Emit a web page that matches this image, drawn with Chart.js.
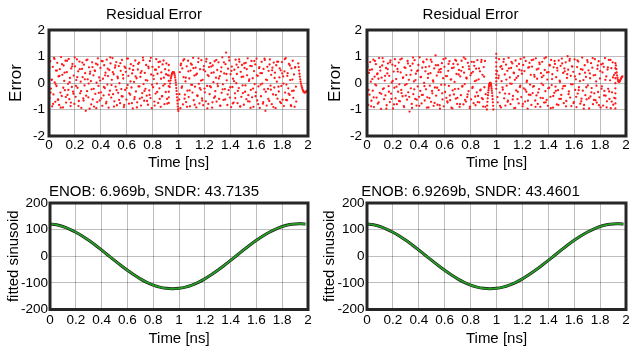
<!DOCTYPE html>
<html>
<head>
<meta charset="utf-8">
<script src="https://cdn.jsdelivr.net/npm/chart.js@4.4.1/dist/chart.umd.min.js"></script>
<style>
  html, body { margin: 0; padding: 0; background: #fff; }
  #wrap { position: relative; width: 629px; height: 351px; overflow: hidden; }
  canvas { position: absolute; }
</style>
</head>
<body>
<div id="wrap">
  <canvas id="resL" width="315" height="175" style="left:0;top:0"></canvas>
  <canvas id="resR" width="314" height="175" style="left:315px;top:0"></canvas>
  <canvas id="fitL" width="315" height="176" style="left:0;top:175px"></canvas>
  <canvas id="fitR" width="314" height="176" style="left:315px;top:175px"></canvas>
</div>
<script>
// sampling grid of the residual points (ns)
const sampleStep = 0.0049;
const segStartA = 0;
const segStartB = 1.005;

const xTicks = [0, 0.2, 0.4, 0.6, 0.8, 1, 1.2, 1.4, 1.6, 1.8, 2];

// residual error, left run (0 .. 0.92 ns)
const residLeftA = [
  0.34,-0.57,0.82,-0.21,0.13,-0.88,0.61,-0.43,0.95,0.02,-0.71,0.47,-0.12,0.76,-0.64,0.25,-0.83,0.52,-0.36,0.98,
  -0.49,0.31,-0.92,0.66,0.08,-0.27,0.84,-0.74,0.41,-0.45,-0.03,0.91,-0.61,0.19,-0.87,0.55,-0.15,0.72,-0.33,0.28,
  -0.79,0.63,-0.52,0.11,0.89,-0.18,0.44,-0.68,0.81,-0.39,0.05,-0.94,0.53,0.22,-0.58,0.69,-0.09,0.37,-1.05,0.86,
  -0.31,0.14,-0.54,0.59,-0.97,0.43,0.07,-0.24,0.78,-0.62,0.29,-0.89,0.48,-0.41,0.73,0.01,-0.72,0.93,-0.11,0.21,
  -0.66,0.57,-0.35,0.83,-0.86,0.16,-0.47,0.67,-0.19,0.39,-0.77,0.88,-0.06,0.26,-0.93,0.49,-0.29,0.74,-0.55,0.12,
  0.94,-0.42,0.33,-0.69,0.58,-0.14,0.79,-0.84,0.24,-0.37,0.64,-0.01,-0.76,0.46,-0.23,0.87,-0.51,0.17,-0.91,0.62,
  -0.26,0.42,-0.63,0.92,-0.08,0.27,-0.78,0.54,-0.44,0.71,-0.17,0.36,-0.96,0.65,0.04,-0.53,0.85,-0.32,0.18,-0.73,
  0.51,-0.13,0.77,-0.59,0.23,-0.85,0.45,-0.38,0.96,-0.04,-0.67,0.38,-0.22,0.68,-0.48,0.09,-0.82,0.56,-0.28,0.83,
  -0.57,0.32,-0.95,0.61,-0.16,0.15,-0.7,0.5,-0.4,0.9,-0.02,0.35,-0.75,0.6,-0.2,0.81,-0.9,0.4,-0.5,0.7,
  -0.1,0.2,-0.8,0.52,-0.34,0.74,-0.6,0.3
];
// in-between samples of the same run (half a step later, every other slot)
const residLeftA2 = [
  0.58,-0.36,0.12,-0.79,0.91,-0.05,0.47,-0.62,0.27,-0.93,0.71,-0.18,0.39,-0.53,0.84,-0.26,0.03,-0.74,0.63,-0.41,
  0.96,-0.11,0.22,-0.87,0.52,-0.31,0.77,-0.66,0.14,-0.48,0.88,-0.02,0.35,-0.81,0.6,-0.22,0.45,-0.95,0.69,-0.37,
  0.09,-0.58,0.82,-0.15,0.29,-0.71,0.54,-0.44,0.97,-0.08,0.41,-0.89,0.66,-0.27,0.18,-0.64,0.75,-0.5,0.31,-0.83,
  0.57,-0.19,0.92,-0.39,0.06,-0.76,0.49,-0.61,0.25,-0.92,0.72,-0.13,0.38,-0.55,0.86,-0.3,0.11,-0.68,0.62,-0.45,
  0.95,-0.07,0.28,-0.85,0.5,-0.34,0.79,-0.6,0.16,-0.5,0.85,-0.04,0.33,-0.78
];
// residual error, left run (1.005 .. 1.91 ns)
const residLeftB = [
  -0.62,0.41,-0.95,0.73,-0.18,0.55,-0.81,0.22,0.9,-0.44,0.06,-0.72,0.63,-0.29,0.84,-0.53,0.17,-0.88,0.47,-0.07,
  0.69,-0.36,0.95,-0.65,0.28,-0.14,0.58,-0.92,0.35,-0.49,0.79,-0.03,-0.77,0.52,-0.25,0.86,-0.58,0.12,-0.84,0.64,
  -0.21,0.44,-0.69,0.91,-0.11,0.3,-0.79,0.6,-0.42,0.75,-0.16,0.38,-0.93,0.66,0.03,-0.56,0.82,-0.31,0.2,-0.7,
  0.49,-0.12,0.78,-0.6,0.26,-0.86,0.43,-0.37,0.97,-0.05,-0.64,0.36,-0.23,0.71,1.15,0.1,-0.83,0.54,-0.27,0.85,
  -0.55,0.33,-0.91,0.62,-0.15,0.16,-0.74,0.5,-0.39,0.88,-0.01,0.34,-0.76,0.59,-0.19,0.8,-0.89,0.42,-0.52,0.68,
  -0.09,0.24,-0.82,0.57,-0.33,0.76,-0.61,0.29,0.93,-0.46,0.08,-0.7,0.65,-0.26,0.83,-0.54,0.18,-0.9,0.45,-0.04,
  0.7,-0.35,0.92,-0.66,0.27,-0.13,0.56,-0.94,0.37,-0.5,0.8,-0.02,-0.78,0.53,-0.24,0.87,-1.05,0.13,-0.85,0.61,
  -0.22,0.46,-0.68,0.89,-0.1,0.31,-0.8,0.58,-0.43,0.77,-0.17,0.39,-0.95,0.67,0.05,-0.59,0.81,-0.32,0.21,-0.71,
  0.48,-0.11,0.79,-0.63,0.25,-0.87,0.44,-0.36,0.94,-0.06,-0.65,0.37,-0.2,0.72,-0.45,0.11,-0.84,0.55,-0.3,0.84,
  -0.56,0.32,-0.9,0.6,-0.14
];
const residLeftB2 = [
  -0.42,0.67,-0.13,0.85,-0.59,0.2,-0.9,0.44,-0.28,0.73,-0.07,0.56,-0.82,0.31,-0.47,0.93,-0.19,0.09,-0.66,0.5,
  -0.35,0.81,-0.96,0.26,-0.12,0.62,-0.73,0.4,-0.51,0.87,-0.03,0.17,-0.85,0.59,-0.24,0.78,-0.62,0.34,-0.43,0.97,
  -0.16,0.46,-0.77,0.07,-0.57,0.69,-0.3,0.89,-0.88,0.23,-0.38,0.74,-0.09,0.52,-0.69,0.14,-0.94,0.64,-0.21,0.83,
  -0.5,0.29,-0.8,0.6,-0.06,0.37,-0.72,0.92,-0.33,0.11,-0.6,0.7,-0.25,0.48,-0.91,0.19,-0.45,0.8,-0.14,0.55,
  -0.76,0.36,-0.02,0.9,-0.64,0.27,-0.4,0.66,-0.87,0.13,-0.29,0.58,-0.7
];
// left: column, arc near 0.96 ns and hook at the end
const curveLeftTimes = [
  0.925,0.925,0.925,0.925,0.925,0.925,0.925,0.925,
  0.932,0.935,0.938,0.941,0.944,0.947,0.95,0.953,0.956,0.959,0.962,0.965,0.968,0.971,0.974,0.977,
  0.979,0.981,0.983,0.985,0.987,0.989,0.991,0.993,0.995,0.997,0.999,
  1.925,1.928,1.931,1.934,1.937,1.94,1.943,1.946,1.95,1.954,1.958,1.962,1.966,1.97,1.975,1.98,1.985,1.99
];
const curveLeftErrors = [
  0.68,0.48,0.28,0.08,-0.12,-0.33,-0.54,-0.75,
  -0.15,-0.02,0.09,0.18,0.25,0.31,0.35,0.38,0.4,0.41,0.41,0.39,0.35,0.29,0.21,0.11,
  0.02,-0.08,-0.19,-0.3,-0.42,-0.54,-0.66,-0.78,-0.89,-0.99,-1.06,
  0.74,0.6,0.47,0.35,0.24,0.14,0.05,-0.03,-0.11,-0.18,-0.24,-0.29,-0.33,-0.35,-0.36,-0.35,-0.33,-0.3
];

// residual error, right run (0 .. 0.92 ns)
const residRightA = [
  -0.15,0.62,-0.83,0.38,-0.44,0.79,0.05,-0.67,0.51,-0.29,0.88,-0.91,0.24,-0.06,0.71,-0.55,0.33,-0.78,0.16,0.94,
  -0.37,0.47,-0.98,0.2,0.66,-0.23,0.81,-0.61,0.09,-0.47,0.57,-0.84,0.36,0.74,-0.12,0.27,-0.72,0.85,-0.4,0.02,
  0.69,-0.96,0.43,-0.18,0.9,-0.58,0.15,-0.8,0.53,-0.33,0.77,-0.05,-0.69,0.4,-0.26,0.92,-0.5,0.21,-0.87,0.59,
  -0.08,-0.48,0.3,-0.63,0.83,-0.35,0.12,-1.08,0.64,-0.2,0.48,-0.94,0.73,-0.42,0.06,0.86,-0.6,0.35,-0.85,0.45,
  -0.13,0.68,-0.52,0.97,-0.3,0.23,-0.77,0.58,-0.45,0.78,0.0,-0.66,0.44,-0.24,0.89,-0.54,0.19,-0.92,0.63,-0.1,
  0.37,-0.71,0.8,-0.39,0.1,-0.86,0.55,-0.17,1.04,-0.48,0.28,-0.82,0.67,-0.27,0.5,-0.97,0.41,-0.07,0.75,-0.62,
  0.18,-0.88,0.61,-0.34,0.93,-0.56,0.26,-0.74,0.46,-0.11,0.82,-0.65,0.13,-0.93,0.56,-0.28,0.72,-0.43,0.04,0.87,
  -0.59,0.34,-0.79,0.7,-0.22,0.49,-0.9,0.25,-0.46,0.84,-0.14,0.6,-0.81,0.39,-0.04,0.91,-0.7,0.17,-0.53,0.76,
  -0.31,0.52,-0.95,0.29,-0.62,0.8,-0.19,0.42,-0.76,0.65,0.07,-0.84,0.54,-0.35,0.86,-0.49,0.14,-0.73,0.44,-0.25,
  0.79,-0.57,0.31,-0.89,0.6,-0.16,0.83,-0.42
];
const residRightA2 = [
  0.71,-0.26,0.49,-0.88,0.15,-0.54,0.83,-0.09,0.36,-0.73,0.6,-0.41,0.94,-0.2,0.27,-0.97,0.52,-0.33,0.78,-0.6,
  0.08,-0.81,0.65,-0.14,0.43,-0.68,0.89,-0.38,0.19,-0.91,0.57,-0.04,0.74,-0.52,0.31,-0.79,0.96,-0.24,0.11,-0.63,
  0.48,-0.86,0.22,-0.45,0.81,-0.12,0.6,-0.93,0.34,-0.57,0.88,-0.3,0.05,-0.75,0.67,-0.18,0.41,-0.84,0.53,-0.39,
  0.9,-0.07,0.26,-0.69,0.72,-0.47,0.14,-0.96,0.58,-0.23,0.84,-0.56,0.32,-0.8,0.46,-0.11,0.97,-0.64,0.2,-0.43,
  0.63,-0.89,0.37,-0.15,0.79,-0.51,0.1,-0.72,0.55,-0.28,0.87,-0.61,0.24,-0.9
];
// residual error, right run (1.005 .. 1.91 ns)
const residRightB = [
  0.44,-0.73,0.18,0.9,-0.36,0.61,-0.92,0.07,0.53,-0.25,0.8,-0.58,0.32,-0.85,0.69,-0.1,0.46,-0.67,0.95,-0.41,
  0.21,-0.8,0.57,-0.03,0.74,-0.49,0.39,-0.95,0.12,0.85,-0.28,0.64,-0.61,0.26,-0.77,0.5,-0.15,0.91,-0.53,0.35,
  -0.88,0.68,-0.2,0.45,-0.7,0.83,-0.33,0.09,-0.97,0.58,-0.44,0.76,-0.06,0.31,-0.83,0.62,-0.38,0.88,-0.12,0.24,
  -0.66,0.93,-0.47,0.16,-0.79,0.54,-0.23,0.71,-0.9,0.37,-0.02,0.8,-0.57,0.28,-0.74,0.49,-0.31,0.97,-0.64,0.13,
  -0.86,0.41,-0.18,0.66,-0.52,0.87,-0.08,0.33,-0.93,0.59,-0.37,0.72,-0.14,0.22,-0.81,0.47,-0.27,0.85,-0.6,0.04,
  0.65,-0.45,0.92,-0.21,0.38,-0.76,0.55,-0.11,0.78,-0.68,0.19,1.01,0.5,-0.32,0.84,-0.55,0.27,-0.87,0.63,-0.05,
  0.42,-0.72,0.89,-0.26,0.14,-0.91,0.6,-0.4,0.81,-0.16,0.34,-0.78,0.52,-0.59,0.96,-0.29,0.11,-0.83,0.67,-0.46,
  0.23,-0.62,0.86,-0.09,0.48,-0.96,0.36,-0.51,0.75,-0.19,0.58,-0.8,0.29,-0.39,0.9,-0.65,0.06,-0.74,0.53,-0.34,
  0.82,-0.54,0.17,-0.92,0.7,-0.13,0.4,-0.85,0.61,-0.3,0.94,-0.48,0.25,-0.69,0.51,-0.22,0.87,-0.6,0.1,-0.95,
  0.56,-0.35,0.78,-0.82,0.3
];
const residRightB2 = [
  -0.53,0.28,-0.86,0.64,-0.17,0.9,-0.4,0.13,-0.71,0.55,-0.02,0.8,-0.62,0.37,-0.94,0.19,-0.33,0.72,-0.1,0.47,
  -0.79,0.96,-0.25,0.04,-0.67,0.6,-0.45,0.86,-0.14,0.31,-0.9,0.51,-0.36,0.77,-0.56,0.22,-0.08,0.93,-0.73,0.4,
  -0.2,0.68,-0.95,0.15,-0.49,0.83,-0.3,0.57,-0.83,0.09,-0.6,0.74,-0.12,0.44,-0.88,0.33,-0.42,0.91,-0.05,0.62,
  -0.76,0.25,-0.52,0.85,-0.27,0.07,-0.69,0.5,-0.97,0.39,-0.16,0.79,-0.58,0.18,-0.35,0.94,-0.64,0.3,-0.1,0.66,
  -0.84,0.45,-0.22,0.73,-0.47,0.12,-0.92,0.59,-0.32,0.87,-0.7,0.21,-0.56
];
// right: arc near 0.95 ns, columns at 1.0 and 1.92 ns, hook at the end
const curveRightTimes = [
  0.926,0.928,0.93,0.932,0.934,0.936,0.938,0.94,0.942,0.944,0.946,0.948,0.95,
  0.952,0.954,0.956,0.958,0.96,0.962,0.964,0.966,0.968,0.97,0.972,0.974,0.976,
  0.998,0.998,0.998,0.998,0.998,0.998,0.998,0.998,0.998,0.998,
  1.918,1.918,1.918,1.918,1.918,1.918,1.918,1.918,1.918,1.918,
  1.922,1.925,1.928,1.931,1.934,1.937,1.94,1.943,1.946,1.949,1.953,1.957,1.961,1.965,1.969,1.972
];
const curveRightErrors = [
  -1.0,-0.85,-0.71,-0.58,-0.46,-0.36,-0.27,-0.19,-0.12,-0.07,-0.03,-0.01,0.0,
  0.0,-0.01,-0.04,-0.08,-0.14,-0.21,-0.29,-0.38,-0.49,-0.61,-0.73,-0.86,-1.0,
  1.1,0.94,0.78,0.62,0.47,0.33,0.19,0.06,-0.08,-0.22,
  0.75,0.56,0.37,0.18,-0.01,-0.2,-0.39,-0.58,-0.77,-0.96,
  0.66,0.52,0.4,0.29,0.2,0.13,0.08,0.05,0.04,0.05,0.08,0.12,0.16,0.2,0.23,0.25
];

// fitted sinusoid (both panels)
const fitTimes = [
  0,0.05,0.1,0.15,0.2,0.25,0.3,0.35,0.4,0.45,0.5,0.55,0.6,0.65,0.7,0.75,0.8,0.85,0.9,0.95,
  1,1.05,1.1,1.15,1.2,1.25,1.3,1.35,1.4,1.45,1.5,1.55,1.6,1.65,1.7,1.75,1.8,1.85,1.9,1.95,1.98
];
const fitValues = [
  121.4,118.0,111.6,102.2,90.3,76.1,59.9,42.2,23.3,3.9,-15.6,-34.7,-52.9,-69.8,-84.9,-97.8,-108.2,-115.8,-120.4,-122.0,
  -120.4,-115.8,-108.2,-97.8,-84.9,-69.8,-52.9,-34.7,-15.6,3.9,23.3,42.2,59.9,76.1,90.3,102.2,111.6,118.0,121.4,121.7,120.9
];

Chart.defaults.font.family = '"Liberation Sans", Arial, sans-serif';
Chart.defaults.color = '#000';
Chart.defaults.animation = false;

const boxPlugin = {
  id: 'box',
  afterDraw(chart) {
    const { ctx, chartArea: a } = chart;
    ctx.save();
    ctx.strokeStyle = '#262626';
    ctx.lineWidth = 3;
    ctx.strokeRect(a.left, a.top, a.right - a.left, a.bottom - a.top);
    ctx.restore();
  }
};

function residualPoints(partA, partA2, partB, partB2, extraT, extraE) {
  const pts = [];
  partA.forEach((e, i) => pts.push({ x: segStartA + i * sampleStep, y: e }));
  partA2.forEach((e, i) => pts.push({ x: segStartA + (2 * i + 0.5) * sampleStep, y: e }));
  partB.forEach((e, i) => pts.push({ x: segStartB + i * sampleStep, y: e }));
  partB2.forEach((e, i) => pts.push({ x: segStartB + (2 * i + 0.5) * sampleStep, y: e }));
  extraT.forEach((t, i) => pts.push({ x: t, y: extraE[i] }));
  return pts;
}

function makePanel(id, p) {
  return new Chart(document.getElementById(id), {
    type: p.type,
    data: { datasets: p.datasets },
    options: {
      responsive: false,
      devicePixelRatio: 1,
      layout: { padding: { top: 0, left: 0, right: p.padRight, bottom: p.padBottom } },
      plugins: {
        legend: { display: false },
        tooltip: { enabled: false },
        title: {
          display: true, text: p.title, color: '#000',
          font: { size: 15, weight: 'normal', lineHeight: '18px' },
          padding: { top: p.titleTop, bottom: p.titleBottom }
        }
      },
      scales: {
        x: {
          type: 'linear', min: 0, max: 2,
          afterBuildTicks: s => { s.ticks = xTicks.map(v => ({ value: v })); },
          afterFit: s => { s.height = p.xHeight; s.paddingLeft = 0; s.paddingRight = 0; },
          ticks: {
            padding: p.xTickPad, maxRotation: 0, autoSkip: false,
            font: { size: 13.5, lineHeight: '16px' },
            callback: v => String(Number(v.toFixed(1)))
          },
          grid: { color: 'rgba(0,0,0,0.26)', lineWidth: 1, drawTicks: false },
          border: { display: false },
          title: { display: true, text: 'Time [ns]', font: { size: 15, lineHeight: '18px' }, padding: 0 }
        },
        y: {
          min: p.yMin, max: p.yMax,
          afterFit: s => { s.width = p.yWidth; },
          ticks: { stepSize: p.yStep, padding: p.yTickPad, font: { size: 13.5, lineHeight: '16px' } },
          grid: { color: 'rgba(0,0,0,0.26)', lineWidth: 1, drawTicks: false },
          border: { display: false },
          title: { display: true, text: p.yLabel, font: { size: p.yLabelSize, lineHeight: '18px' }, padding: { top: p.yLabelPad, bottom: 0 } }
        }
      }
    },
    plugins: [boxPlugin]
  });
}

function residualSet(points) {
  return [{
    data: points, backgroundColor: '#ff1a1a', borderWidth: 0,
    pointRadius: 1.15, pointHoverRadius: 0
  }];
}

function fitSets() {
  const pts = fitTimes.map((t, i) => ({ x: t, y: fitValues[i] }));
  return [
    { data: pts, borderColor: '#25a025', borderWidth: 1.8, pointRadius: 0, tension: 0.3 },
    { data: pts, borderColor: '#1a1a1a', borderWidth: 3, pointRadius: 0, tension: 0.3 }
  ];
}

makePanel('resL', {
  type: 'scatter', title: 'Residual Error',
  datasets: residualSet(residualPoints(residLeftA, residLeftA2, residLeftB, residLeftB2, curveLeftTimes, curveLeftErrors)),
  yMin: -2, yMax: 2, yStep: 1, yLabel: 'Error', yLabelSize: 17, yLabelPad: 7,
  yWidth: 49, yTickPad: 4, padRight: 7, padBottom: 3, xHeight: 36, xTickPad: 1.5,
  titleTop: 6, titleBottom: 6
});
makePanel('resR', {
  type: 'scatter', title: 'Residual Error',
  datasets: residualSet(residualPoints(residRightA, residRightA2, residRightB, residRightB2, curveRightTimes, curveRightErrors)),
  yMin: -2, yMax: 2, yStep: 1, yLabel: 'Error', yLabelSize: 17, yLabelPad: 11,
  yWidth: 52, yTickPad: 5, padRight: 3, padBottom: 3, xHeight: 36, xTickPad: 1.5,
  titleTop: 6, titleBottom: 6
});
makePanel('fitL', {
  type: 'line', title: 'ENOB: 6.969b, SNDR: 43.7135',
  datasets: fitSets(),
  yMin: -200, yMax: 200, yStep: 100, yLabel: 'fitted sinusoid', yLabelSize: 15, yLabelPad: 4.5,
  yWidth: 50, yTickPad: 2, padRight: 7, padBottom: 3.5, xHeight: 38, xTickPad: 3,
  titleTop: 8, titleBottom: 2
});
makePanel('fitR', {
  type: 'line', title: 'ENOB: 6.9269b, SNDR: 43.4601',
  datasets: fitSets(),
  yMin: -200, yMax: 200, yStep: 100, yLabel: 'fitted sinusoid', yLabelSize: 15, yLabelPad: 6,
  yWidth: 52, yTickPad: 2.5, padRight: 3, padBottom: 3.5, xHeight: 38, xTickPad: 3,
  titleTop: 8, titleBottom: 2
});
</script>
</body>
</html>
